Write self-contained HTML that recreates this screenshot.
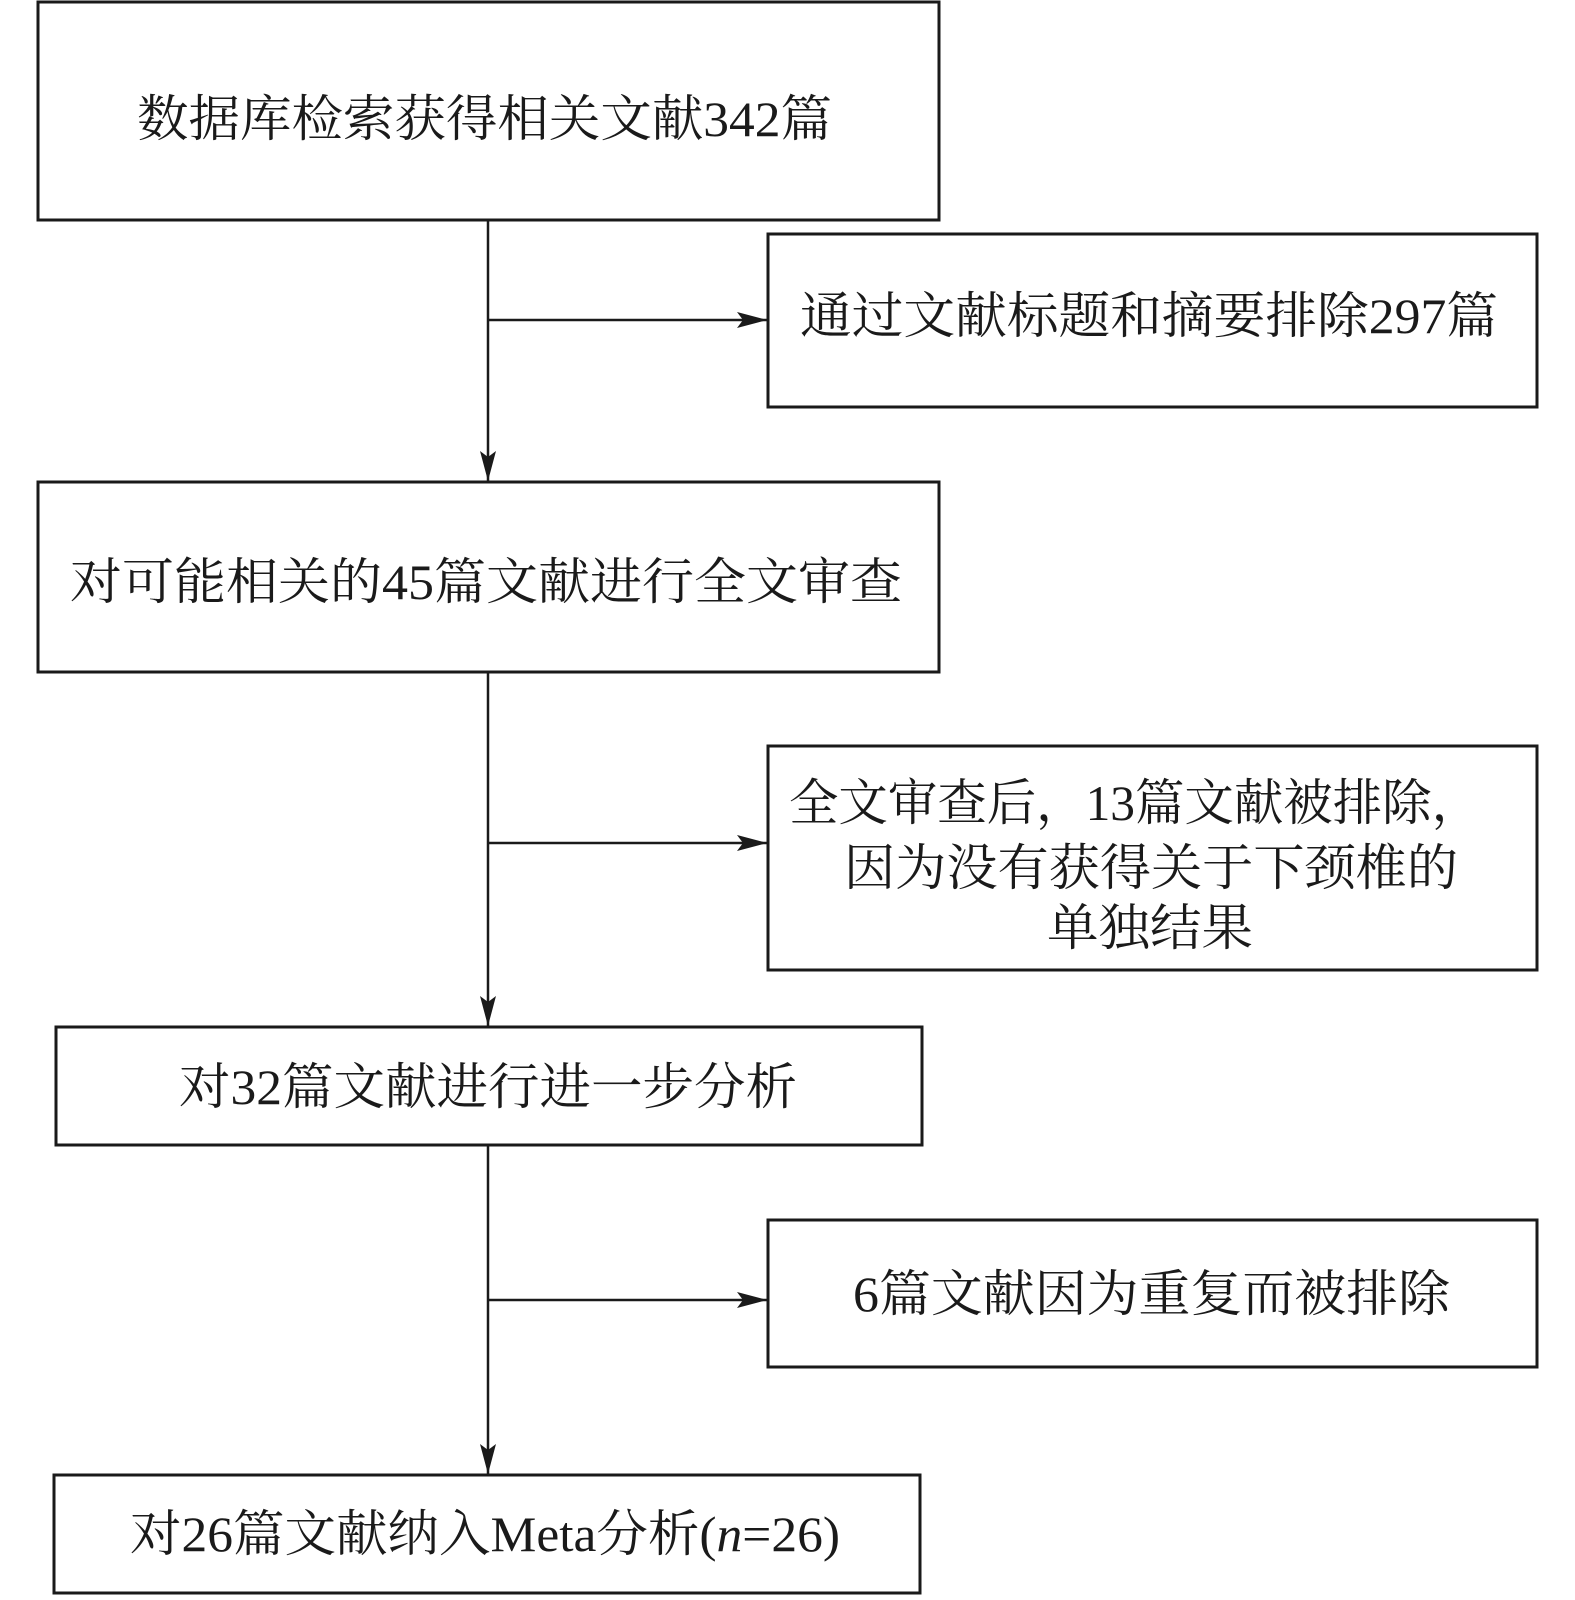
<!DOCTYPE html>
<html><head><meta charset="utf-8"><style>
html,body{margin:0;padding:0;background:#fff;}
svg text{font-family:"Liberation Serif","Noto Serif CJK SC",serif;font-size:50px;fill:#1a1a1a;}
</style></head><body>
<svg width="1575" height="1595" viewBox="0 0 1575 1595" xmlns="http://www.w3.org/2000/svg">
<defs>
<marker id="b" markerWidth="32" markerHeight="16" refX="30" refY="8" orient="auto" markerUnits="userSpaceOnUse"><path d="M0,0 L30,8 L0,16 L6,8 Z" fill="#1a1a1a"/></marker></defs>
<g fill="none" stroke="#1a1a1a" stroke-width="3">
<rect x="38" y="2" width="901" height="218"/>
<rect x="768" y="234" width="769" height="173"/>
<rect x="38" y="482" width="901" height="190"/>
<rect x="768" y="746" width="769" height="224"/>
<rect x="56" y="1027" width="866" height="118"/>
<rect x="768" y="1220" width="769" height="147"/>
<rect x="54" y="1475" width="866" height="118"/>
<line x1="488" y1="220" x2="488" y2="481" marker-end="url(#b)" stroke-width="2.5"/>
<line x1="488" y1="672" x2="488" y2="1026" marker-end="url(#b)" stroke-width="2.5"/>
<line x1="488" y1="1145" x2="488" y2="1474" marker-end="url(#b)" stroke-width="2.5"/>
<line x1="488" y1="320" x2="767" y2="320" marker-end="url(#b)" stroke-width="2.5"/>
<line x1="488" y1="843" x2="767" y2="843" marker-end="url(#b)" stroke-width="2.5"/>
<line x1="488" y1="1300" x2="767" y2="1300" marker-end="url(#b)" stroke-width="2.5"/>
</g>
<text x="137" y="136" textLength="695" lengthAdjust="spacingAndGlyphs">数据库检索获得相关文献342篇</text>
<text x="800" y="333" textLength="698" lengthAdjust="spacingAndGlyphs">通过文献标题和摘要排除297篇</text>
<text x="70" y="599" textLength="832" lengthAdjust="spacingAndGlyphs">对可能相关的45篇文献进行全文审查</text>
<text x="789" y="820" textLength="692" lengthAdjust="spacingAndGlyphs">全文审查后，13篇文献被排除，</text>
<text x="844" y="885" textLength="614" lengthAdjust="spacingAndGlyphs">因为没有获得关于下颈椎的</text>
<text x="1047" y="945" textLength="206" lengthAdjust="spacingAndGlyphs">单独结果</text>
<text x="179" y="1104" textLength="618" lengthAdjust="spacingAndGlyphs">对32篇文献进行进一步分析</text>
<text x="853" y="1311" textLength="597" lengthAdjust="spacingAndGlyphs">6篇文献因为重复而被排除</text>
<text x="130" y="1551" textLength="710" lengthAdjust="spacingAndGlyphs">对26篇文献纳入Meta分析(<tspan font-style="italic">n</tspan>=26)</text>
</svg>
</body></html>
